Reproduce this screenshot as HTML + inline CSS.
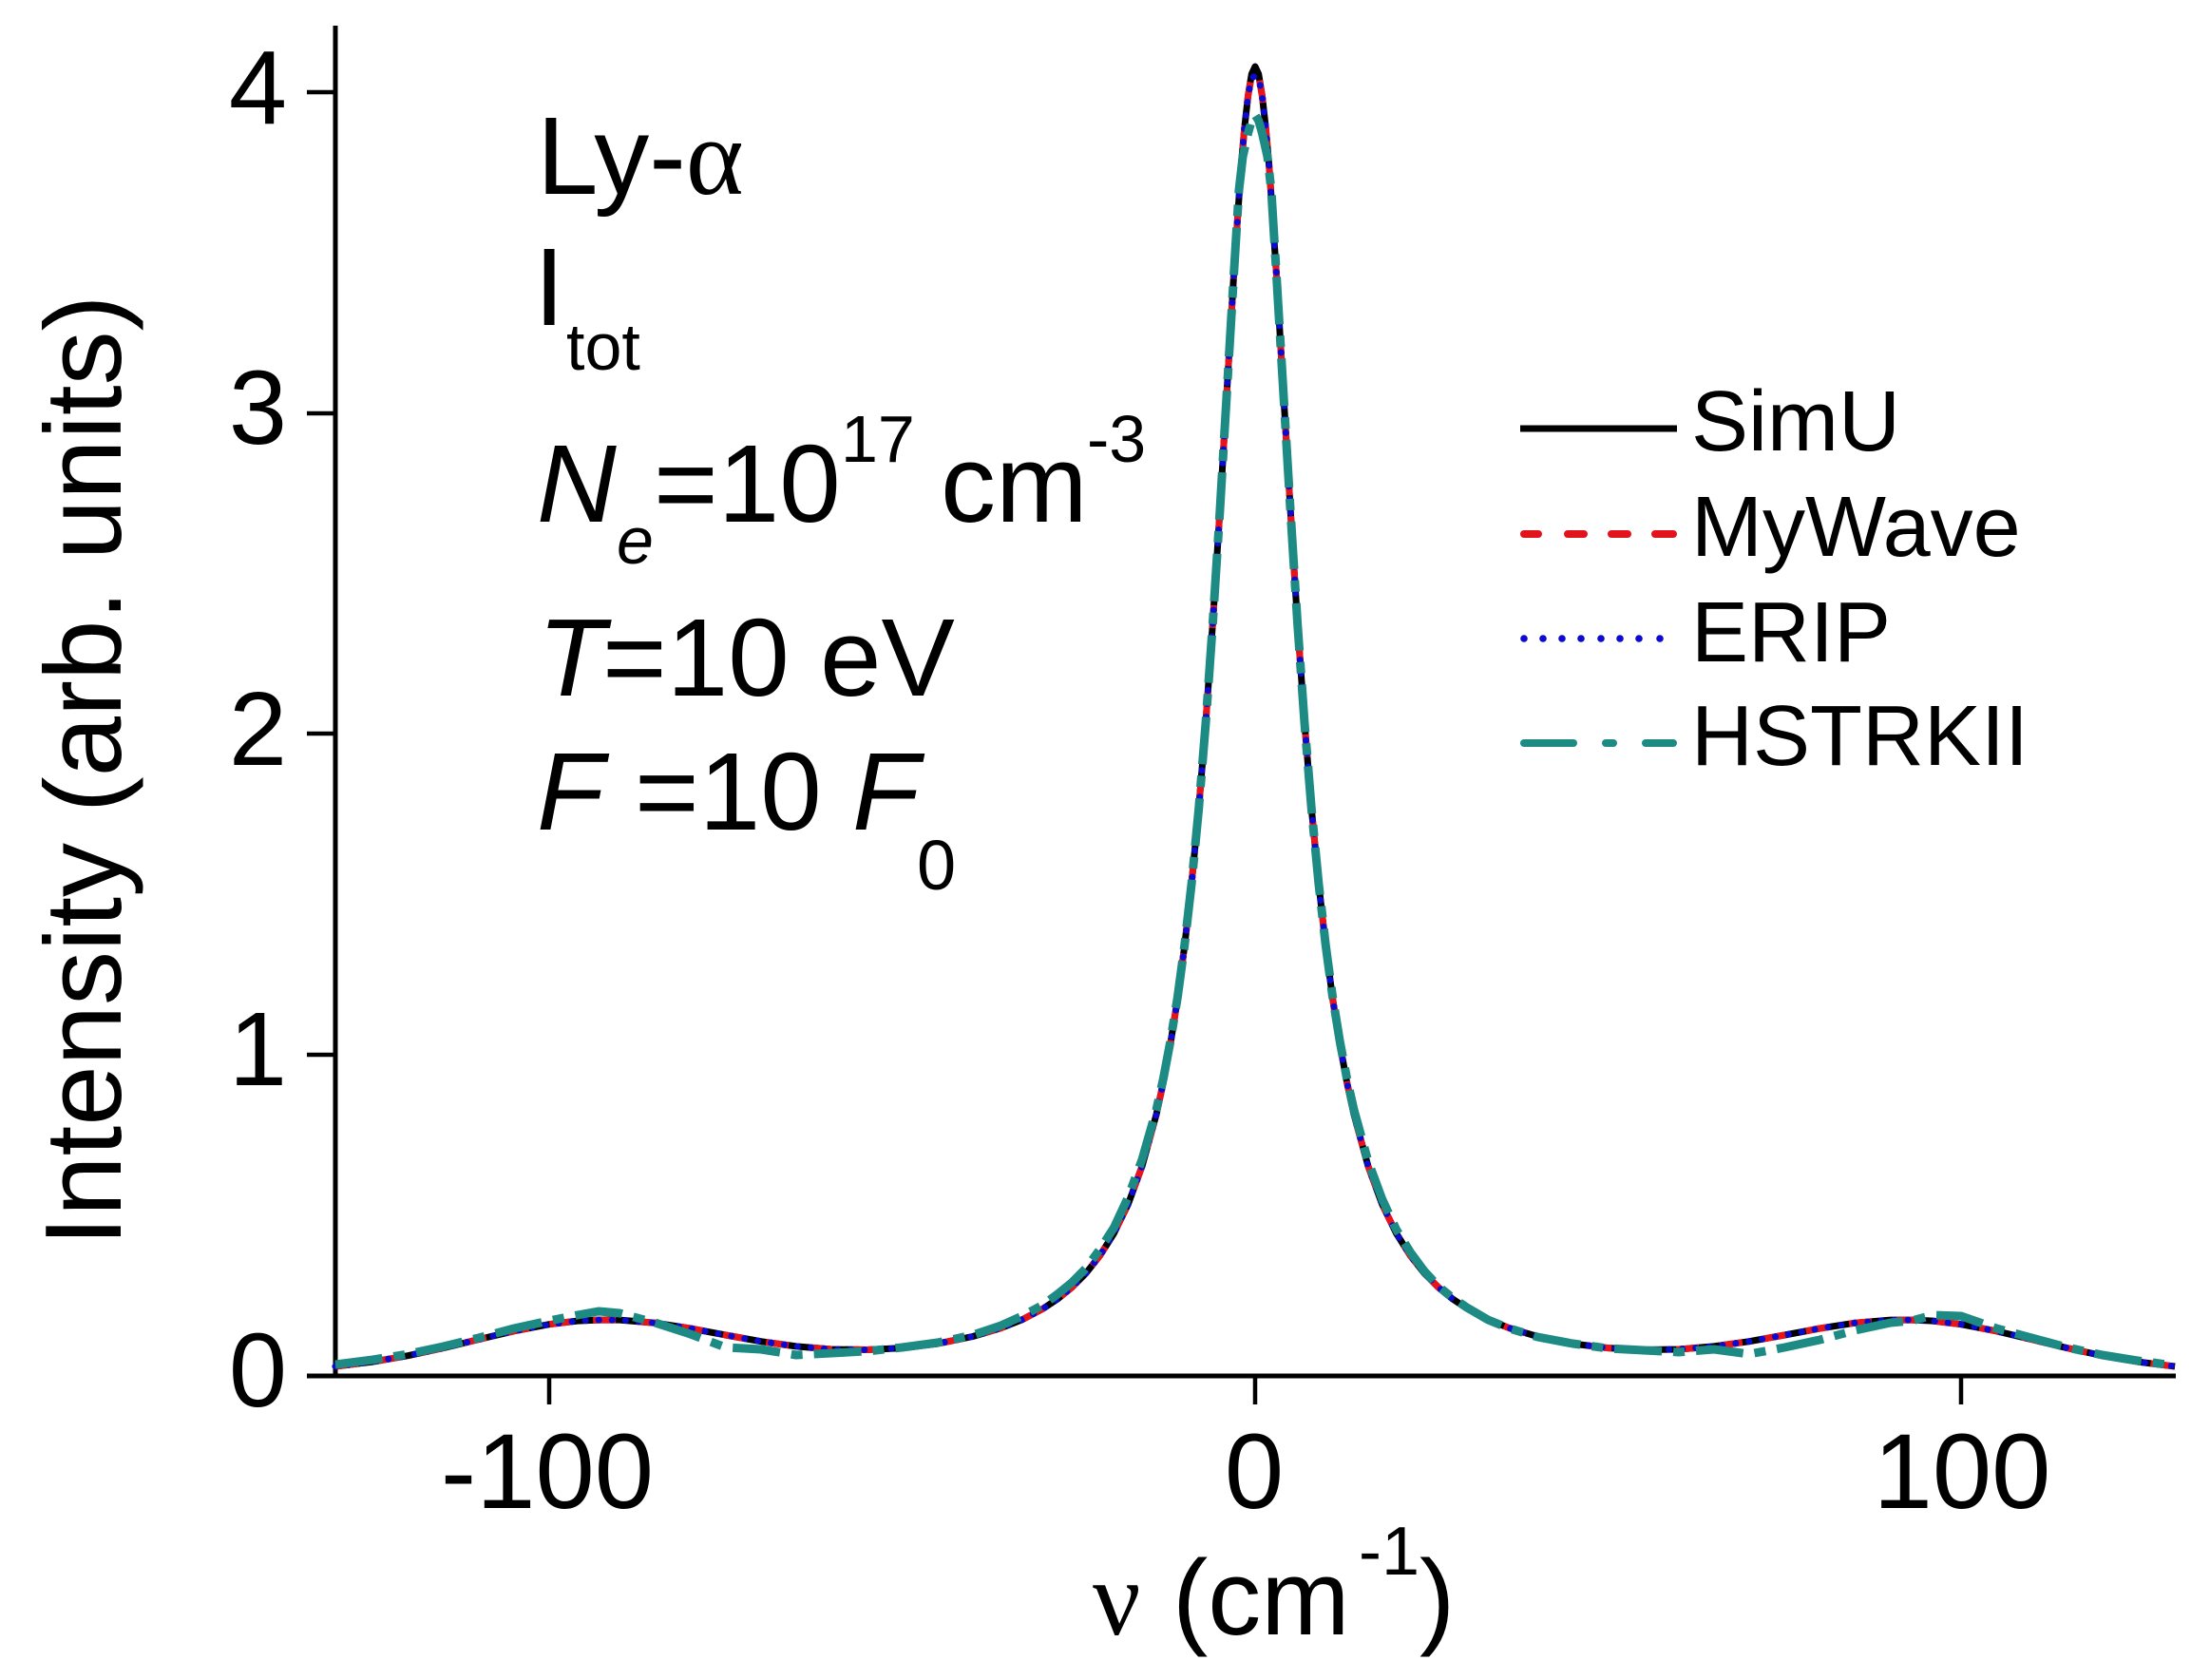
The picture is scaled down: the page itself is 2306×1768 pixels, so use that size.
<!DOCTYPE html>
<html>
<head>
<meta charset="utf-8">
<style>
  html,body{margin:0;padding:0;background:#fff;}
  svg{display:block;}
  text{font-family:"Liberation Sans",Arial,sans-serif;fill:#000;}
  .serif{font-family:"Liberation Serif","Times New Roman",serif;}
</style>
</head>
<body>
<svg width="2306" height="1768" viewBox="0 0 2306 1768" xmlns="http://www.w3.org/2000/svg">
  <rect x="0" y="0" width="2306" height="1768" fill="#fff"/>

  <!-- Axes -->
  <line x1="353" y1="27" x2="353" y2="1450" stroke="#000" stroke-width="5"/>
  <line x1="323" y1="1448" x2="2290" y2="1448" stroke="#000" stroke-width="5"/>
  <!-- y ticks -->
  <line x1="323" y1="97" x2="353" y2="97" stroke="#000" stroke-width="4.5"/>
  <line x1="323" y1="435" x2="353" y2="435" stroke="#000" stroke-width="4.5"/>
  <line x1="323" y1="772" x2="353" y2="772" stroke="#000" stroke-width="4.5"/>
  <line x1="323" y1="1110" x2="353" y2="1110" stroke="#000" stroke-width="4.5"/>
  <!-- x ticks -->
  <line x1="578" y1="1448" x2="578" y2="1478" stroke="#000" stroke-width="4.5"/>
  <line x1="1321" y1="1448" x2="1321" y2="1478" stroke="#000" stroke-width="4.5"/>
  <line x1="2064" y1="1448" x2="2064" y2="1478" stroke="#000" stroke-width="4.5"/>

  <!-- y tick labels -->
  <g font-size="110" text-anchor="end">
    <text x="302" y="130">4</text>
    <text x="302" y="467">3</text>
    <text x="302" y="805">2</text>
    <text x="302" y="1142">1</text>
    <text x="302" y="1480">0</text>
  </g>
  <!-- x tick labels -->
  <g font-size="112" text-anchor="middle">
    <text x="576" y="1587">-100</text>
    <text x="1320" y="1587">0</text>
    <text x="2065" y="1587">100</text>
  </g>

  <!-- y axis label -->
  <text transform="translate(127,811) rotate(-90)" text-anchor="middle" font-size="114">Intensity (arb. units)</text>

  <!-- x axis label -->
  <text class="serif" x="1150" y="1720" font-size="112">ν</text>
  <text x="1234" y="1720" font-size="112">(cm</text>
  <text x="1430" y="1657" font-size="72">-1</text>
  <text x="1494" y="1720" font-size="112">)</text>

  <!-- Annotations -->
  <text x="565" y="204" font-size="116">Ly-<tspan class="serif">α</tspan></text>
  <text x="562" y="342" font-size="116">I</text>
  <text x="596" y="389" font-size="70">tot</text>

  <text x="565" y="549" font-size="116" font-style="italic">N</text>
  <text x="649" y="593" font-size="70" font-style="italic">e</text>
  <text x="688" y="549" font-size="116">=10</text>
  <text x="885" y="486" font-size="70">17</text>
  <text x="990" y="549" font-size="116">cm</text>
  <text x="1144" y="486" font-size="70">-3</text>

  <text x="566" y="732" font-size="116" font-style="italic">T</text>
  <text x="634" y="732" font-size="116">=10 eV</text>

  <text x="565" y="873" font-size="116" font-style="italic">F</text>
  <text x="668" y="873" font-size="116">=10</text>
  <text x="897" y="873" font-size="116" font-style="italic">F</text>
  <text x="965" y="936" font-size="74">0</text>

  <!-- Series -->
  <g fill="none" stroke-linejoin="round">
    <!-- SimU black solid -->
    <polyline stroke="#000" stroke-width="7" points="352.9,1438.0 392.3,1433.1 429.4,1426.7 466.6,1418.6 503.7,1409.6 540.9,1400.8 578.0,1393.7 607.7,1390.1 630.0,1389.1 652.3,1389.1 689.5,1392.2 726.6,1398.0 763.8,1405.0 800.9,1411.7 838.0,1416.9 875.2,1420.0 912.4,1420.5 949.5,1418.6 986.6,1414.1 1023.8,1406.5 1053.5,1397.6 1075.8,1388.8 1098.1,1377.0 1113.0,1367.1 1127.8,1355.1 1142.7,1340.2 1157.5,1321.6 1172.4,1298.0 1187.3,1267.4 1202.1,1227.1 1217.0,1173.0 1224.4,1139.0 1231.8,1098.9 1239.3,1051.7 1246.7,995.9 1254.1,929.8 1261.6,851.8 1269.0,760.6 1276.4,655.5 1283.9,537.6 1291.3,411.6 1298.7,286.6 1306.1,176.8 1309.9,133.6 1313.6,100.6 1317.3,78 1321,70 1324.7,78 1328.4,100.6 1332.1,133.6 1335.9,176.8 1343.3,286.6 1350.7,411.6 1358.2,537.6 1365.6,655.5 1373.0,760.6 1380.4,851.8 1387.9,929.8 1395.3,995.9 1402.7,1051.7 1410.2,1098.9 1417.6,1139.0 1425.0,1173.0 1439.9,1227.1 1454.7,1267.4 1469.6,1298.0 1484.5,1321.6 1499.3,1340.2 1514.2,1355.1 1529.0,1367.1 1543.9,1377.0 1566.2,1388.8 1588.5,1397.6 1618.2,1406.5 1655.4,1414.1 1692.5,1418.6 1729.7,1420.5 1766.8,1420.0 1804.0,1416.9 1841.1,1411.7 1878.3,1405.0 1915.4,1398.0 1952.6,1392.2 1989.7,1389.1 2012.0,1389.1 2034.3,1390.1 2064.0,1393.7 2101.2,1400.8 2138.3,1409.6 2175.5,1418.6 2212.6,1426.7 2249.8,1433.1 2289.1,1438.0"/>
    <!-- MyWave red dashed -->
    <polyline stroke="#e8141a" stroke-width="7" stroke-dasharray="24 22" points="352.9,1438.0 392.3,1433.1 429.4,1426.7 466.6,1418.6 503.7,1409.6 540.9,1400.8 578.0,1393.7 607.7,1390.1 630.0,1389.1 652.3,1389.1 689.5,1392.2 726.6,1398.0 763.8,1405.0 800.9,1411.7 838.0,1416.9 875.2,1420.0 912.4,1420.5 949.5,1418.6 986.6,1414.1 1023.8,1406.5 1053.5,1397.6 1075.8,1388.8 1098.1,1377.0 1113.0,1367.1 1127.8,1355.1 1142.7,1340.2 1157.5,1321.6 1172.4,1298.0 1187.3,1267.4 1202.1,1227.1 1217.0,1173.0 1224.4,1139.0 1231.8,1098.9 1239.3,1051.7 1246.7,995.9 1254.1,929.8 1261.6,851.8 1269.0,760.6 1276.4,655.5 1283.9,537.6 1291.3,411.6 1298.7,286.6 1306.1,176.8 1309.9,133.6 1313.6,100.6 1317.3,80.2 1321,76 1324.7,80.2 1328.4,100.6 1332.1,133.6 1335.9,176.8 1343.3,286.6 1350.7,411.6 1358.2,537.6 1365.6,655.5 1373.0,760.6 1380.4,851.8 1387.9,929.8 1395.3,995.9 1402.7,1051.7 1410.2,1098.9 1417.6,1139.0 1425.0,1173.0 1439.9,1227.1 1454.7,1267.4 1469.6,1298.0 1484.5,1321.6 1499.3,1340.2 1514.2,1355.1 1529.0,1367.1 1543.9,1377.0 1566.2,1388.8 1588.5,1397.6 1618.2,1406.5 1655.4,1414.1 1692.5,1418.6 1729.7,1420.5 1766.8,1420.0 1804.0,1416.9 1841.1,1411.7 1878.3,1405.0 1915.4,1398.0 1952.6,1392.2 1989.7,1389.1 2012.0,1389.1 2034.3,1390.1 2064.0,1393.7 2101.2,1400.8 2138.3,1409.6 2175.5,1418.6 2212.6,1426.7 2249.8,1433.1 2289.1,1438.0"/>
    <!-- ERIP blue dotted -->
    <polyline stroke="#0a0ad0" stroke-width="7" stroke-linecap="round" stroke-dasharray="0.1 14" points="352.9,1438.0 392.3,1433.1 429.4,1426.7 466.6,1418.6 503.7,1409.6 540.9,1400.8 578.0,1393.7 607.7,1390.1 630.0,1389.1 652.3,1389.1 689.5,1392.2 726.6,1398.0 763.8,1405.0 800.9,1411.7 838.0,1416.9 875.2,1420.0 912.4,1420.5 949.5,1418.6 986.6,1414.1 1023.8,1406.5 1053.5,1397.6 1075.8,1388.8 1098.1,1377.0 1113.0,1367.1 1127.8,1355.1 1142.7,1340.2 1157.5,1321.6 1172.4,1298.0 1187.3,1267.4 1202.1,1227.1 1217.0,1173.0 1224.4,1139.0 1231.8,1098.9 1239.3,1051.7 1246.7,995.9 1254.1,929.8 1261.6,851.8 1269.0,760.6 1276.4,655.5 1283.9,537.6 1291.3,411.6 1298.7,286.6 1306.1,176.8 1309.9,133.6 1313.6,100.6 1317.3,82 1321,80 1324.7,82 1328.4,100.6 1332.1,133.6 1335.9,176.8 1343.3,286.6 1350.7,411.6 1358.2,537.6 1365.6,655.5 1373.0,760.6 1380.4,851.8 1387.9,929.8 1395.3,995.9 1402.7,1051.7 1410.2,1098.9 1417.6,1139.0 1425.0,1173.0 1439.9,1227.1 1454.7,1267.4 1469.6,1298.0 1484.5,1321.6 1499.3,1340.2 1514.2,1355.1 1529.0,1367.1 1543.9,1377.0 1566.2,1388.8 1588.5,1397.6 1618.2,1406.5 1655.4,1414.1 1692.5,1418.6 1729.7,1420.5 1766.8,1420.0 1804.0,1416.9 1841.1,1411.7 1878.3,1405.0 1915.4,1398.0 1952.6,1392.2 1989.7,1389.1 2012.0,1389.1 2034.3,1390.1 2064.0,1393.7 2101.2,1400.8 2138.3,1409.6 2175.5,1418.6 2212.6,1426.7 2249.8,1433.1 2289.1,1438.0"/>
    <!-- HSTRKII teal dash-dot -->
    <polyline stroke="#1e8a84" stroke-width="9" stroke-dasharray="50 12 12 12" points="352.9,1436 392.3,1431 429.4,1425 466.6,1417 503.7,1408 540.9,1398 578.0,1390 607.7,1384 630.0,1380 652.3,1382 689.5,1392 726.6,1404 763.8,1418 800.9,1420 838.0,1426 875.2,1424 912.4,1422 949.5,1418 986.6,1413 1023.8,1405 1053.5,1395 1075.8,1385 1098.1,1373 1113.0,1362 1127.8,1350 1142.7,1335 1157.5,1315 1172.4,1292 1187.3,1260 1202.1,1220 1217.0,1168 1224.4,1135 1231.8,1096 1239.3,1050 1246.7,995 1254.1,930 1261.6,852 1269.0,761 1276.4,656 1283.9,538 1291.3,412 1298.7,287 1304,200 1308,165 1313.6,140 1317.3,127 1321,121 1324.7,127 1328.4,140 1334,165 1338,200 1343.3,287 1350.7,412 1358.2,538 1365.6,656 1373.0,761 1380.4,852 1387.9,930 1395.3,995 1402.7,1050 1410.2,1096 1417.6,1135 1425.0,1168 1439.9,1222 1454.7,1262 1469.6,1294 1484.5,1318 1499.3,1338 1514.2,1354 1529.0,1366 1543.9,1376 1566.2,1389 1588.5,1398 1618.2,1407 1655.4,1414 1692.5,1419 1729.7,1421 1766.8,1423 1804.0,1420 1841.1,1425 1878.3,1418 1915.4,1410 1952.6,1400 1989.7,1392 2012.0,1390 2034.3,1384 2064.0,1385 2101.2,1398 2138.3,1408 2175.5,1418 2212.6,1426 2249.8,1432 2289.1,1437"/>
  </g>

  <!-- Legend -->
  <line x1="1600" y1="451" x2="1765" y2="451" stroke="#000" stroke-width="7"/>
  <g stroke="#e0141a" stroke-width="8" stroke-linecap="round">
    <line x1="1604" y1="562" x2="1619" y2="562"/>
    <line x1="1650" y1="562" x2="1667" y2="562"/>
    <line x1="1696" y1="562" x2="1713" y2="562"/>
    <line x1="1742" y1="562" x2="1761" y2="562"/>
  </g>
  <g fill="#0a0ad0">
    <circle cx="1604" cy="672" r="3.8"/>
    <circle cx="1624" cy="672" r="3.8"/>
    <circle cx="1644" cy="672" r="3.8"/>
    <circle cx="1664" cy="672" r="3.8"/>
    <circle cx="1685" cy="672" r="3.8"/>
    <circle cx="1705" cy="672" r="3.8"/>
    <circle cx="1725" cy="672" r="3.8"/>
    <circle cx="1747" cy="672" r="3.8"/>
  </g>
  <g stroke="#1e8a84" stroke-width="8" stroke-linecap="round">
    <line x1="1604" y1="782" x2="1656" y2="782"/>
    <line x1="1690" y1="782" x2="1698" y2="782"/>
    <line x1="1732" y1="782" x2="1761" y2="782"/>
  </g>
  <g font-size="90">
    <text x="1780" y="474">SimU</text>
    <text x="1780" y="585">MyWave</text>
    <text x="1780" y="696">ERIP</text>
    <text x="1780" y="805">HSTRKII</text>
  </g>
</svg>
</body>
</html>
